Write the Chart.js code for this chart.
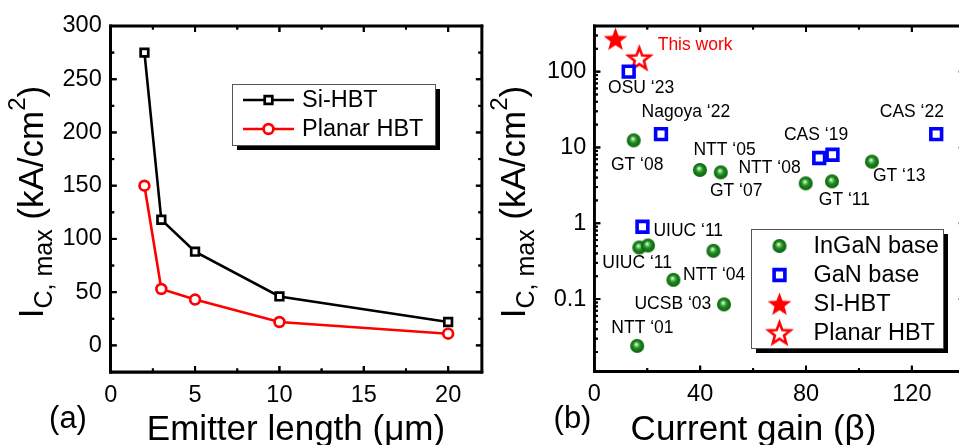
<!DOCTYPE html>
<html>
  <head>
    <script src="https://cdn.jsdelivr.net/npm/chart.js"></script>
  </head>
  <style>
    html, body {
      margin: 0;
      width: 959px;
      height: 445px;
      overflow: hidden;
      background: #ffffff;
    }
    canvas {
      position: absolute;
      top: 0;
    }
    #leftChart { left: 0; }
    #rightChart { left: 488px; }
  </style>
  <body>
    <canvas id="leftChart" width="490" height="445"></canvas>
    <canvas id="rightChart" width="488" height="445"></canvas>
    <script>
      // (a) Ic,max vs emitter length
      const EMITTER_LENGTH = [2, 3, 5, 10, 20];
      const SI_HBT = [275, 118, 88, 46, 22];
      const PLANAR_HBT = [150, 53, 43, 22, 11];
      const LEFT_X_TICKS = [0, 5, 10, 15, 20];
      const LEFT_Y_TICKS = [0, 50, 100, 150, 200, 250, 300];

      // (b) Ic,max vs current gain
      const INGAN_GAIN = [14.9, 39.9, 47.8, 79.9, 89.8, 104.9, 17.0, 20.3, 45.0, 29.9, 49.0, 16.2];
      const INGAN_IC = [12.4, 5.04, 4.69, 3.36, 3.57, 6.49, 0.479, 0.509, 0.433, 0.179, 0.085, 0.0241];
      const GAN_GAIN = [13, 25.2, 129.2, 85, 90, 18.2];
      const GAN_IC = [100, 15, 15, 7.26, 8.0, 0.90];
      const SI_GAIN = [8];
      const SI_IC = [270];
      const PLANAR_GAIN = [17];
      const PLANAR_IC = [150];
      const RIGHT_X_TICKS = [0, 40, 80, 120];
      const RIGHT_Y_TICKS = [0.1, 1, 10, 100];

      const REF_NAMES = ['OSU ‘23', 'Nagoya ‘22', 'CAS ‘22', 'CAS ‘19', 'NTT ‘05', 'GT ‘08', 'NTT ‘08', 'GT ‘07',
                         'GT ‘13', 'GT ‘11', 'UIUC ‘11', 'UIUC ‘11', 'NTT ‘04', 'UCSB ‘03', 'NTT ‘01'];
      const REF_NAME_X = [17.7, 34.6, 120, 83.8, 49.2, 16.2, 66.2, 53.6, 115.2, 94.5, 35.5, 16.2, 45.3, 29.7, 18.2];
      const REF_NAME_Y = [60.5, 29.2, 29.2, 14.4, 9.14, 5.8, 5.25, 2.67, 4.15, 1.99, 0.794, 0.298, 0.205, 0.085, 0.0411];

      const FONT = "'Liberation Sans', Arial, sans-serif";
      const TICK_FONT = { family: FONT, size: 23.5 };

      const makeSphere = (r) => {
        const c = document.createElement('canvas');
        const s = 2 * r + 2;
        c.width = c.height = s;
        const g = c.getContext('2d');
        const m = s / 2;
        const grad = g.createRadialGradient(m - 1, m - 1.8, 0.2, m, m, r);
        grad.addColorStop(0, '#ffffff');
        grad.addColorStop(0.2, '#86c986');
        grad.addColorStop(0.5, '#1c8c1c');
        grad.addColorStop(1, '#0a610a');
        g.fillStyle = grad;
        g.beginPath();
        g.arc(m, m, r, 0, Math.PI * 2);
        g.fill();
        return c;
      };

      const makeStar = (R, filled) => {
        const c = document.createElement('canvas');
        const s = Math.ceil(2 * R + 6);
        c.width = c.height = s;
        const g = c.getContext('2d');
        const m = s / 2;
        g.beginPath();
        for (let i = 0; i < 10; i++) {
          const rad = i % 2 ? R * 0.42 : R;
          const a = -Math.PI / 2 + i * Math.PI / 5;
          g.lineTo(m + rad * Math.cos(a), m + 1 + rad * Math.sin(a));
        }
        g.closePath();
        if (filled) {
          g.fillStyle = '#ff0000';
          g.fill();
        } else {
          g.fillStyle = '#ffffff';
          g.fill();
          g.lineWidth = 2.6;
          g.strokeStyle = '#ff0000';
          g.stroke();
        }
        return c;
      };

      const SPHERE = makeSphere(7);
      const STAR_FILLED = makeStar(12.5, true);
      const STAR_OPEN = makeStar(11.5, false);

      const drawYTitle = (ctx, x, yc) => {
        const parts = [['I', 35, 0], ['C, max', 25, 9], [' (kA/cm', 35, 0], ['2', 24, -18], [')', 35, 0]];
        let total = 0;
        parts.forEach(p => { ctx.font = p[1] + 'px ' + FONT; total += ctx.measureText(p[0]).width; });
        ctx.save();
        ctx.translate(x, yc);
        ctx.rotate(-Math.PI / 2);
        ctx.fillStyle = '#000';
        ctx.textBaseline = 'alphabetic';
        ctx.textAlign = 'left';
        let cx = -total / 2;
        parts.forEach(p => {
          ctx.font = p[1] + 'px ' + FONT;
          ctx.fillText(p[0], cx, p[2]);
          cx += ctx.measureText(p[0]).width;
        });
        ctx.restore();
      };

      const drawLegendBox = (ctx, x1, y1, x2, y2) => {
        ctx.fillStyle = '#000';
        ctx.fillRect(x1 + 5, y1 + 5, x2 - x1, y2 - y1);
        ctx.fillStyle = '#fff';
        ctx.fillRect(x1, y1, x2 - x1, y2 - y1);
        ctx.strokeStyle = '#555';
        ctx.lineWidth = 1;
        ctx.strokeRect(x1 + 0.5, y1 + 0.5, x2 - x1, y2 - y1);
      };

      // box frame with inward ticks on all four sides
      const drawFrame = (chart, opts) => {
        const ctx = chart.ctx;
        const { left, right, top, bottom } = chart.chartArea;
        const xs = chart.scales.x;
        const ys = chart.scales.y;
        ctx.save();
        ctx.fillStyle = '#000';
        const inY = v => v >= ys.min && v <= ys.max;
        const tick = (px, len, side) => {
          if (side === 'b') ctx.fillRect(px - 1, bottom - len, 2, len);
          if (side === 't') ctx.fillRect(px - 1, top, 2, len);
          if (side === 'l') ctx.fillRect(left, px - 1, len, 2);
          if (side === 'r') ctx.fillRect(right - len, px - 1, len, 2);
        };
        opts.xMajor.forEach(v => { const p = xs.getPixelForValue(v); tick(p, 6, 'b'); tick(p, 6, 't'); });
        opts.xMinor.forEach(v => { const p = xs.getPixelForValue(v); tick(p, 3.5, 'b'); tick(p, 3.5, 't'); });
        opts.yMajor.filter(inY).forEach(v => { const p = ys.getPixelForValue(v); tick(p, 6, 'l'); tick(p, 6, 'r'); });
        opts.yMinor.filter(inY).forEach(v => {
          const p = ys.getPixelForValue(v);
          tick(p, 3.5, 'l');
          if (opts.rightMinor) tick(p, 3.5, 'r');
        });
        const w = 2.6;
        ctx.fillRect(left - w / 2, top - w / 2, right - left + w, w);
        ctx.fillRect(left - w / 2, bottom - w / 2, right - left + w, w);
        ctx.fillRect(left - w / 2, top - w / 2, w, bottom - top + w);
        ctx.fillRect(right - w / 2, top - w / 2, w, bottom - top + w);
        ctx.restore();
      };

      const decorPlugin = {
        id: 'decor',
        beforeDatasetsDraw(chart, args, opts) {
          drawFrame(chart, opts);
        },
        afterDraw(chart, args, opts) {
          const ctx = chart.ctx;
          ctx.save();
          ctx.fillStyle = '#000';
          ctx.textAlign = 'center';
          ctx.textBaseline = 'alphabetic';
          ctx.font = '35px ' + FONT;
          ctx.fillText(opts.xTitle, opts.xTitleX, 440);
          ctx.font = '31px ' + FONT;
          ctx.fillText(opts.panel, opts.panelX, 428);
          drawYTitle(ctx, opts.yTitleX, 202);
          opts.extra(ctx, chart);
          ctx.restore();
          drawFrame(chart, opts);
        }
      };

      const axisBorder = { display: true, color: '#000', width: 2.6 };

      const leftConfig = {
        type: 'scatter',
        data: {
          datasets: [
            {
              label: 'Si-HBT',
              data: EMITTER_LENGTH.map((x, i) => ({ x: x, y: SI_HBT[i] })),
              showLine: true,
              borderColor: '#000000',
              borderWidth: 2.6,
              pointStyle: 'rect',
              pointRadius: 5.4,
              pointBorderWidth: 2.7,
              pointBackgroundColor: '#ffffff',
              pointBorderColor: '#000000',
            },
            {
              label: 'Planar HBT',
              data: EMITTER_LENGTH.map((x, i) => ({ x: x, y: PLANAR_HBT[i] })),
              showLine: true,
              borderColor: '#ff0000',
              borderWidth: 2.6,
              pointStyle: 'circle',
              pointRadius: 4.9,
              pointBorderWidth: 2.7,
              pointBackgroundColor: '#ffffff',
              pointBorderColor: '#ff0000',
            }
          ]
        },
        options: {
          responsive: false,
          animation: false,
          layout: { padding: { top: 26, right: 6, left: 0, bottom: 0 } },
          scales: {
            x: {
              type: 'linear', min: 0, max: 22,
              afterBuildTicks: s => { s.ticks = LEFT_X_TICKS.map(v => ({ value: v })); },
              afterFit: s => { s.height = 73; },
              grid: { display: false, drawTicks: false },
              border: axisBorder,
              ticks: { font: TICK_FONT, color: '#000', padding: 9, maxRotation: 0, autoSkip: false }
            },
            y: {
              type: 'linear', min: -25, max: 300,
              afterBuildTicks: s => { s.ticks = LEFT_Y_TICKS.map(v => ({ value: v })); },
              afterFit: s => { s.width = 110.7; },
              grid: { display: false, drawTicks: false },
              border: axisBorder,
              ticks: { font: TICK_FONT, color: '#000', padding: 9, autoSkip: false }
            }
          },
          plugins: {
            legend: { display: false },
            tooltip: { enabled: false },
            decor: {
              xMajor: [0, 5, 10, 15, 20],
              xMinor: [2.5, 7.5, 12.5, 17.5],
              yMajor: [0, 50, 100, 150, 200, 250],
              yMinor: [25, 75, 125, 175, 225, 275],
              rightMinor: true,
              xTitle: 'Emitter length (μm)',
              xTitleX: 296,
              panel: '(a)',
              panelX: 68,
              yTitleX: 43,
              extra: (ctx, chart) => {
                drawLegendBox(ctx, 232, 84, 435, 145);
                ctx.font = '23.5px ' + FONT;
                ctx.textAlign = 'left';
                ctx.textBaseline = 'middle';
                const ds = chart.data.datasets;
                [[100, '#000', 'rect'], [129, '#ff0000', 'circle']].forEach((row, i) => {
                  const y = row[0];
                  ctx.strokeStyle = row[1];
                  ctx.lineWidth = 2.6;
                  ctx.beginPath(); ctx.moveTo(243, y); ctx.lineTo(294, y); ctx.stroke();
                  ctx.fillStyle = '#fff';
                  ctx.lineWidth = 2.7;
                  ctx.beginPath();
                  if (row[2] === 'rect') ctx.rect(268.5 - 3.8, y - 3.8, 7.6, 7.6);
                  else ctx.arc(268.5, y, 4.9, 0, Math.PI * 2);
                  ctx.fill(); ctx.stroke();
                  ctx.fillStyle = '#000';
                  ctx.fillText(ds[i].label, 302, y + 1);
                });
              }
            }
          }
        },
        plugins: [decorPlugin]
      };

      const logMinor = [];
      [0.01, 0.1, 1, 10, 100].forEach(d => { for (let k = 2; k <= 9; k++) logMinor.push(d * k); });

      const rightConfig = {
        type: 'scatter',
        data: {
          datasets: [
            { label: 'InGaN base', data: INGAN_GAIN.map((x, i) => ({ x: x, y: INGAN_IC[i] })), pointStyle: SPHERE },
            {
              label: 'GaN base',
              data: GAN_GAIN.map((x, i) => ({ x: x, y: GAN_IC[i] })),
              pointStyle: 'rect',
              pointRadius: 7.6,
              pointBorderWidth: 3.6,
              pointBorderColor: '#0000ff',
              pointBackgroundColor: '#ffffff',
            },
            { label: 'SI-HBT', data: SI_GAIN.map((x, i) => ({ x: x, y: SI_IC[i] })), pointStyle: STAR_FILLED },
            { label: 'Planar HBT', data: PLANAR_GAIN.map((x, i) => ({ x: x, y: PLANAR_IC[i] })), pointStyle: STAR_OPEN }
          ]
        },
        options: {
          responsive: false,
          animation: false,
          layout: { padding: { top: 26, right: 2.4, left: 0, bottom: 0 } },
          scales: {
            x: {
              type: 'linear', min: 0, max: 140,
              afterBuildTicks: s => { s.ticks = RIGHT_X_TICKS.map(v => ({ value: v })); },
              afterFit: s => { s.height = 73.3; },
              grid: { display: false, drawTicks: false },
              border: axisBorder,
              ticks: { font: TICK_FONT, color: '#000', padding: 9, maxRotation: 0, autoSkip: false }
            },
            y: {
              type: 'logarithmic', min: 0.011, max: 400,
              afterBuildTicks: s => { s.ticks = RIGHT_Y_TICKS.map(v => ({ value: v })); },
              afterFit: s => { s.width = 106.3; },
              grid: { display: false, drawTicks: false },
              border: axisBorder,
              ticks: { font: TICK_FONT, color: '#000', padding: 8, autoSkip: false, callback: v => String(v) }
            }
          },
          plugins: {
            legend: { display: false },
            tooltip: { enabled: false },
            decor: {
              xMajor: [0, 40, 80, 120],
              xMinor: [20, 60, 100],
              yMajor: [0.1, 1, 10, 100],
              yMinor: logMinor,
              rightMinor: false,
              xTitle: 'Current gain (β)',
              xTitleX: 265.5,
              panel: '(b)',
              panelX: 84.5,
              yTitleX: 37,
              extra: (ctx, chart) => {
                const xs = chart.scales.x;
                const ys = chart.scales.y;
                ctx.textAlign = 'center';
                ctx.textBaseline = 'middle';
                ctx.font = '17.5px ' + FONT;
                ctx.fillStyle = '#000';
                REF_NAMES.forEach((t, i) => {
                  ctx.fillText(t, xs.getPixelForValue(REF_NAME_X[i]), ys.getPixelForValue(REF_NAME_Y[i]));
                });
                ctx.fillStyle = '#ff0000';
                ctx.fillText('This work', xs.getPixelForValue(38.1), ys.getPixelForValue(226));

                drawLegendBox(ctx, 263, 229, 455, 348);
                ctx.font = '23.5px ' + FONT;
                ctx.textAlign = 'left';
                const rows = [246, 275, 304, 333];
                chart.data.datasets.forEach((d, i) => {
                  const y = rows[i];
                  const mx = 291.5;
                  if (i === 0) ctx.drawImage(SPHERE, mx - SPHERE.width / 2, y - SPHERE.height / 2);
                  if (i === 1) {
                    ctx.fillStyle = '#fff';
                    ctx.strokeStyle = '#0000ff';
                    ctx.lineWidth = 3.6;
                    ctx.beginPath(); ctx.rect(mx - 5.4, y - 5.4, 10.8, 10.8); ctx.fill(); ctx.stroke();
                  }
                  if (i === 2) ctx.drawImage(STAR_FILLED, mx - STAR_FILLED.width / 2, y - STAR_FILLED.height / 2);
                  if (i === 3) ctx.drawImage(STAR_OPEN, mx - STAR_OPEN.width / 2, y - STAR_OPEN.height / 2);
                  ctx.fillStyle = '#000';
                  ctx.fillText(d.label, 325.5, y + 1);
                });
              }
            }
          }
        },
        plugins: [decorPlugin]
      };

      new Chart(document.getElementById('leftChart'), leftConfig);
      new Chart(document.getElementById('rightChart'), rightConfig);
    </script>
  </body>
</html>
